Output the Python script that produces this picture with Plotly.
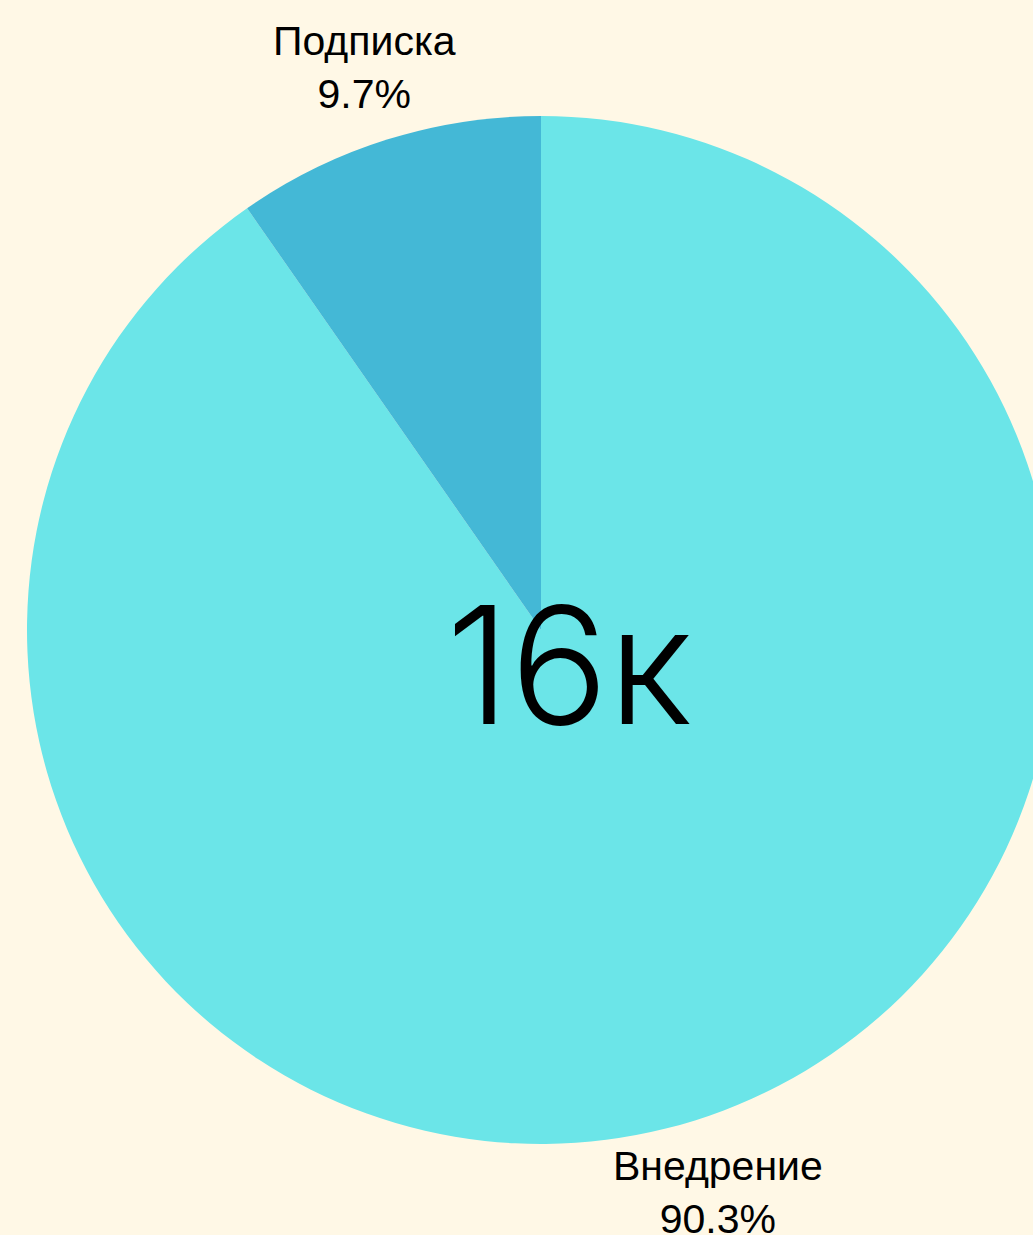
import math
import plotly.graph_objects as go

labels = ["Внедрение", "Подписка"]
values = [14450, 1550]
colors = ["#6BE5E8", "#44B8D6"]
center_text = "16к"

W, H = 1082, 1260
R = 514  # pie radius in px
cx, cy = 541, 630  # pie centre in px from top-left

fig = go.Figure(go.Pie(
    labels=labels,
    values=values,
    marker=dict(colors=colors, line=dict(width=0)),
    sort=False,
    direction="clockwise",
    rotation=0,
    textinfo="none",
    showlegend=False,
    hoverinfo="label+percent+value",
    domain=dict(x=[(cx - R) / W, (cx + R) / W], y=[(H - cy - R) / H, (H - cy + R) / H]),
))

# outside labels placed along each slice's mid-angle
total = sum(values)
start = 0.0
label_dist = 590
for lab, v in zip(labels, values):
    frac = v / total
    mid = (start + frac / 2) * 2 * math.pi
    start += frac
    px = cx + label_dist * math.sin(mid)
    py = cy - label_dist * math.cos(mid)
    fig.add_annotation(
        text=f"{lab}<br>{frac * 100:.1f}%",
        x=px / W, y=1 - py / H, xref="paper", yref="paper",
        xanchor="center", yanchor="middle", showarrow=False,
        font=dict(family="Liberation Sans, Arial, sans-serif", size=41, color="#000000"),
    )

fig.add_annotation(
    text=center_text, x=0.5, y=0.5, xref="paper", yref="paper",
    showarrow=False, xshift=28, yshift=-34,
    font=dict(family="Inter, Lato, sans-serif", size=163, color="#000000", weight=300),
)

fig.update_layout(
    width=W, height=H,
    margin=dict(l=0, r=0, t=0, b=0),
    paper_bgcolor="#FFF8E6",
    plot_bgcolor="#FFF8E6",
)

fig.write_html(
    "out.html",
    config={"displayModeBar": False},
    post_script="document.body.style.margin='0';document.body.style.overflow='hidden';document.body.style.background='#FFF8E6';",
)
